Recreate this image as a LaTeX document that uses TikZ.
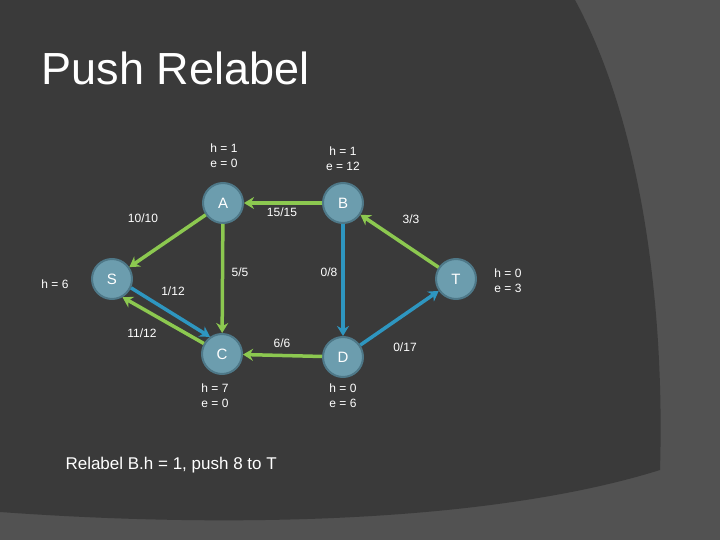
\documentclass[tikz,border=0pt]{standalone}
\usepackage{fontspec}
\setmainfont{Liberation Sans}
\usetikzlibrary{arrows.meta}
\definecolor{bgdark}{HTML}{3A3A3A}
\definecolor{bglight}{HTML}{525252}
\definecolor{nodefill}{HTML}{6C9DAE}
\definecolor{nodeedge}{HTML}{4E7888}
\definecolor{eg}{HTML}{8CC850}
\definecolor{eb}{HTML}{2E96C0}
\begin{document}
\begin{tikzpicture}[x=1pt,y=-1pt,
  vert/.style={circle,fill=nodefill,draw=nodeedge,line width=2pt,minimum size=40pt,inner sep=0pt,text=white,font=\fontsize{15}{15}\selectfont},
  lbl/.style={text=white,font=\fontsize{12}{15}\selectfont,align=center},
  ge/.style={draw=eg,line width=3.5pt,-{Stealth[length=10pt,width=12pt]}},
  be/.style={draw=eb,line width=3.5pt,-{Stealth[length=10pt,width=12pt]}}]
\fill[bglight] (0,0) rectangle (720,540);
\fill[bgdark] (0,0) -- (575,0) .. controls (640,120) and (665,300) .. (660,470) .. controls (500,520) and (250,530) .. (0,512) -- cycle;
\useasboundingbox (0,0) rectangle (720,540);
\node[text=white,font=\fontsize{45}{45}\selectfont,anchor=west] (title) at (38,68) {Push Relabel};
\node[vert] (A) at (223,203) {A};
\node[vert] (B) at (343,203) {B};
\node[vert] (S) at (112,279) {S};
\node[vert] (C) at (222,354) {C};
\node[vert] (D) at (343,357) {D};
\node[vert] (T) at (456,279) {T};
\draw[ge] (A) -- (S);
\draw[ge] (B) -- (A);
\draw[ge] (A) -- (C);
\draw[be] (B) -- (D);
\draw[ge] (T) -- (B);
\draw[be] (S.-25) -- (C.125);
\draw[ge] (C.150) -- (S.-60);
\draw[ge] (D) -- (C);
\draw[be] (D) -- (T);
\node[lbl] (la) at (224,156) {h = 1\\e = 0};
\node[lbl] (lb) at (343,159) {h = 1\\e = 12};
\node[lbl] (ls) at (55,284) {h = 6};
\node[lbl] (lt) at (508,281) {h = 0\\e = 3};
\node[lbl] (lc) at (215,396) {h = 7\\e = 0};
\node[lbl] (ld) at (343,396) {h = 0\\e = 6};
\node[lbl] (w1) at (143,218) {10/10};
\node[lbl] (w2) at (282,212) {15/15};
\node[lbl] (w3) at (411,219) {3/3};
\node[lbl] (w4) at (240,272) {5/5};
\node[lbl] (w5) at (329,272) {0/8};
\node[lbl] (w6) at (173,291) {1/12};
\node[lbl] (w7) at (142,333) {11/12};
\node[lbl] (w8) at (282,343) {6/6};
\node[lbl] (w9) at (405,347) {0/17};
\node[text=white,font=\fontsize{17}{17}\selectfont,anchor=west] (cap) at (62,465) {Relabel B.h = 1, push 8 to T};
\end{tikzpicture}
\end{document}
